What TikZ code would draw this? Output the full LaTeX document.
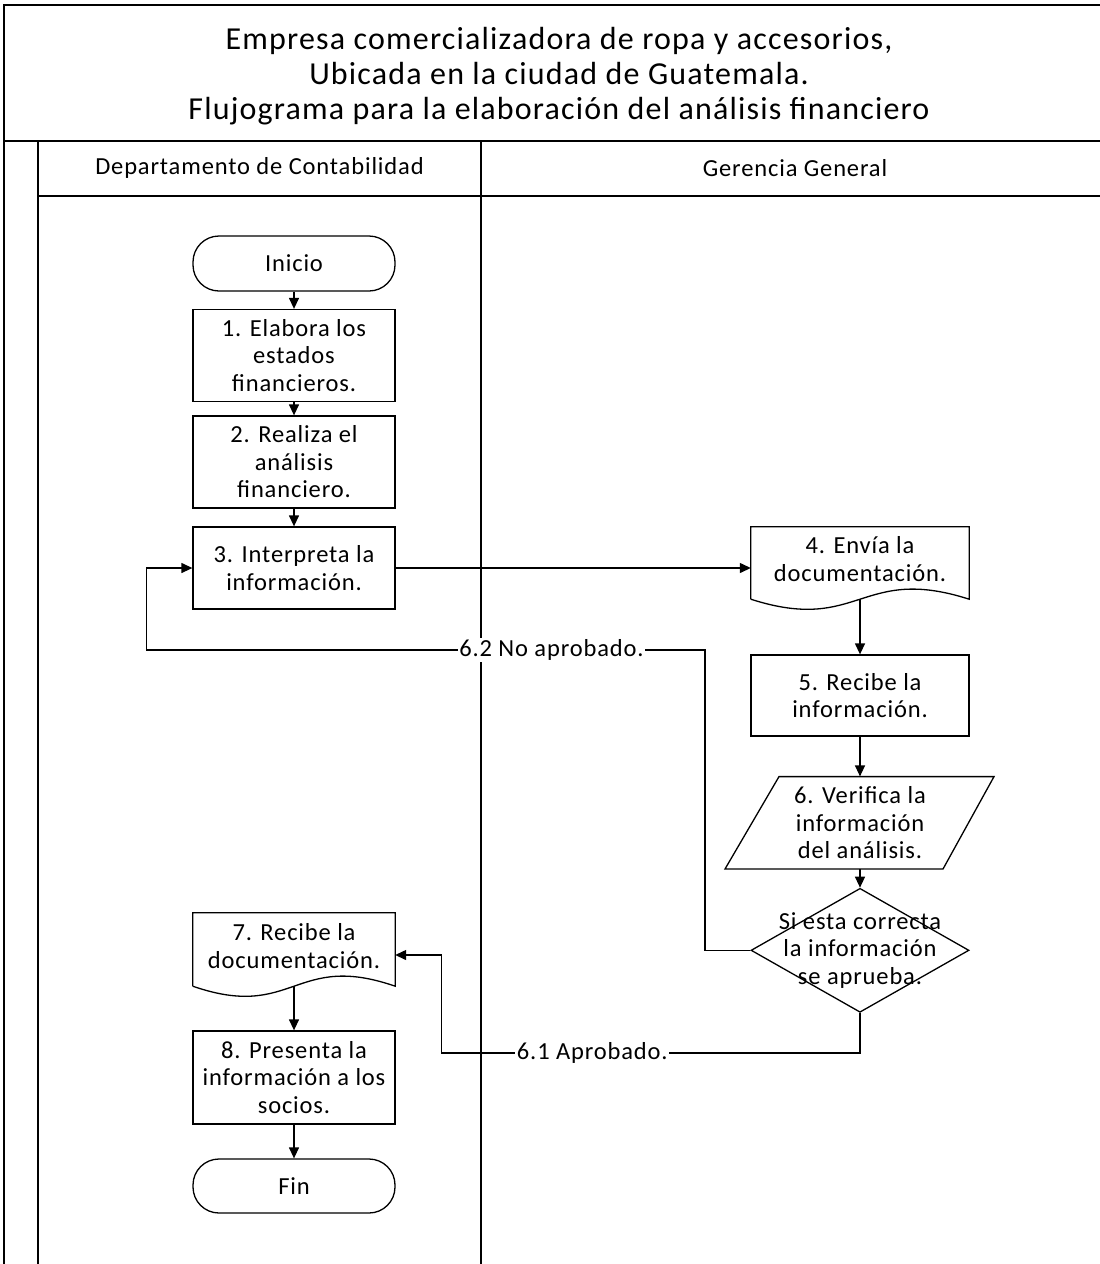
\documentclass[tikz,border=0pt]{standalone}
\usepackage{fontspec}
\setmainfont{Carlito}
\newfontfamily\bodyf[LetterSpace=3.5]{Carlito}
\newfontfamily\titlef[LetterSpace=3.7]{Carlito}
\usetikzlibrary{arrows.meta,shapes.geometric,calc}
\begin{document}
\begin{tikzpicture}[x=1pt,y=-1pt,
  frame/.style={line width=2pt, draw=black},
  shp/.style={draw=black, line width=1.3pt},
  txt/.style={font=\bodyf\fontsize{24.5}{27.5}\selectfont, align=center, inner sep=0pt},
  box/.style={shp, txt, minimum width=202pt},
  rbox/.style={shp, txt, minimum width=218pt},
  term/.style={box, rounded corners=26pt},
  docnode/.style={inner sep=0pt, minimum width=#1},
  arr/.style={line width=1.3pt, -{Triangle[length=11pt,width=10pt]}},
  conn/.style={line width=1.3pt},
  lbl/.style={txt, fill=white, inner sep=1.5pt},
  hdr/.style={font=\bodyf\fontsize{24.5}{27.5}\selectfont, inner sep=0pt}
]
\useasboundingbox (0,0) rectangle (1100,1264);
\fill[white] (0,0) rectangle (1100,1264);

% frame
\draw[frame] (1100,5) -- (4,5) -- (4,1264);
\draw[frame] (4,141) -- (1100,141);
\draw[frame] (38,141) -- (38,1264);
\draw[frame] (38,195.5) -- (1100,195.5);
\draw[frame] (481,141) -- (481,1264);

\node[font=\titlef\fontsize{32}{35}\selectfont, align=center, inner sep=0pt] (title) at (559,76)
  {Empresa comercializadora de ropa y accesorios,\\Ubicada en la ciudad de Guatemala.\\Flujograma para la elaboración del análisis financiero};
\node[hdr] (h1) at (259.5,168) {Departamento de Contabilidad};
\node[hdr] (h2) at (795,168) {Gerencia General};

% left lane
\node[term, minimum height=55pt] (ini) at (294,263.5) {Inicio};
\node[box, minimum height=92pt] (b1) at (294,355.5) {1. Elabora los\\estados\\financieros.};
\node[box, minimum height=92pt] (b2) at (294,462) {2. Realiza el\\análisis\\financiero.};
\node[box, minimum height=82pt] (b3) at (294,568) {3. Interpreta la\\información.};

% right lane
\node[docnode=218pt, minimum height=72pt] (doc4) at (860,563) {};
\draw[shp] (doc4.south west) -- (doc4.north west) -- (doc4.north east) -- (doc4.south east)
  .. controls +(-109,-35) and +(109,35) .. (doc4.south west);
\node[txt] (t4) at ($(doc4.center)+(0,-4)$) {4. Envía la\\documentación.};

\node[rbox, minimum height=81pt] (b5) at (860,695.5) {5. Recibe la\\información.};

\node[txt, minimum height=92.4pt, minimum width=160pt] (p6) at (860,822.8) {6. Verifica la\\información\\del análisis.};
\draw[shp] (779,776.6) -- (994,776.6) -- (943,869) -- (725,869) -- cycle;

\node[diamond, shp, minimum width=218pt, minimum height=124pt, inner sep=0pt] (d) at (860,950.3) {};
\node[txt] (dt) at (d.center) {Si esta correcta\\la información\\se aprueba.};

% left lane bottom
\node[docnode=202pt, minimum height=73pt] (doc7) at (294,949.5) {};
\draw[shp] (doc7.south west) -- (doc7.north west) -- (doc7.north east) -- (doc7.south east)
  .. controls +(-101,-35) and +(101,35) .. (doc7.south west);
\node[txt] (t7) at ($(doc7.center)+(0,-3.5)$) {7. Recibe la\\documentación.};

\node[box, minimum height=93pt] (b8) at (294,1077.5) {8. Presenta la\\información a los\\socios.};
\node[term, minimum height=54pt] (fin) at (294,1186) {Fin};

% connectors
\draw[arr] (ini) -- (b1);
\draw[arr] (b1) -- (b2);
\draw[arr] (b2) -- (b3);
\draw[arr] (b3.east) -- (b3.east -| doc4.west);
\draw[arr] (doc4.south) -- (b5.north);
\draw[arr] (b5.south) -- (p6.north);
\draw[arr] (p6.south) -- (d.north);
\draw[arr] (doc7.south) -- (b8.north);
\draw[arr] (b8) -- (fin);

\coordinate (k1) at (705,650);
\coordinate (k2) at (146.7,650);
\draw[arr] (d.west) -| (k1) -- node[lbl, pos=0.275] {6.2 No aprobado.} (k2) |- (b3.west);

\coordinate (k3) at (860,1053);
\coordinate (k4) at (441.7,1053);
\draw[arr] (d.south) -- (k3) -- node[lbl, pos=0.64] {6.1 Aprobado.} (k4) |- ([yshift=-5.5pt]doc7.east);
\end{tikzpicture}
\end{document}
